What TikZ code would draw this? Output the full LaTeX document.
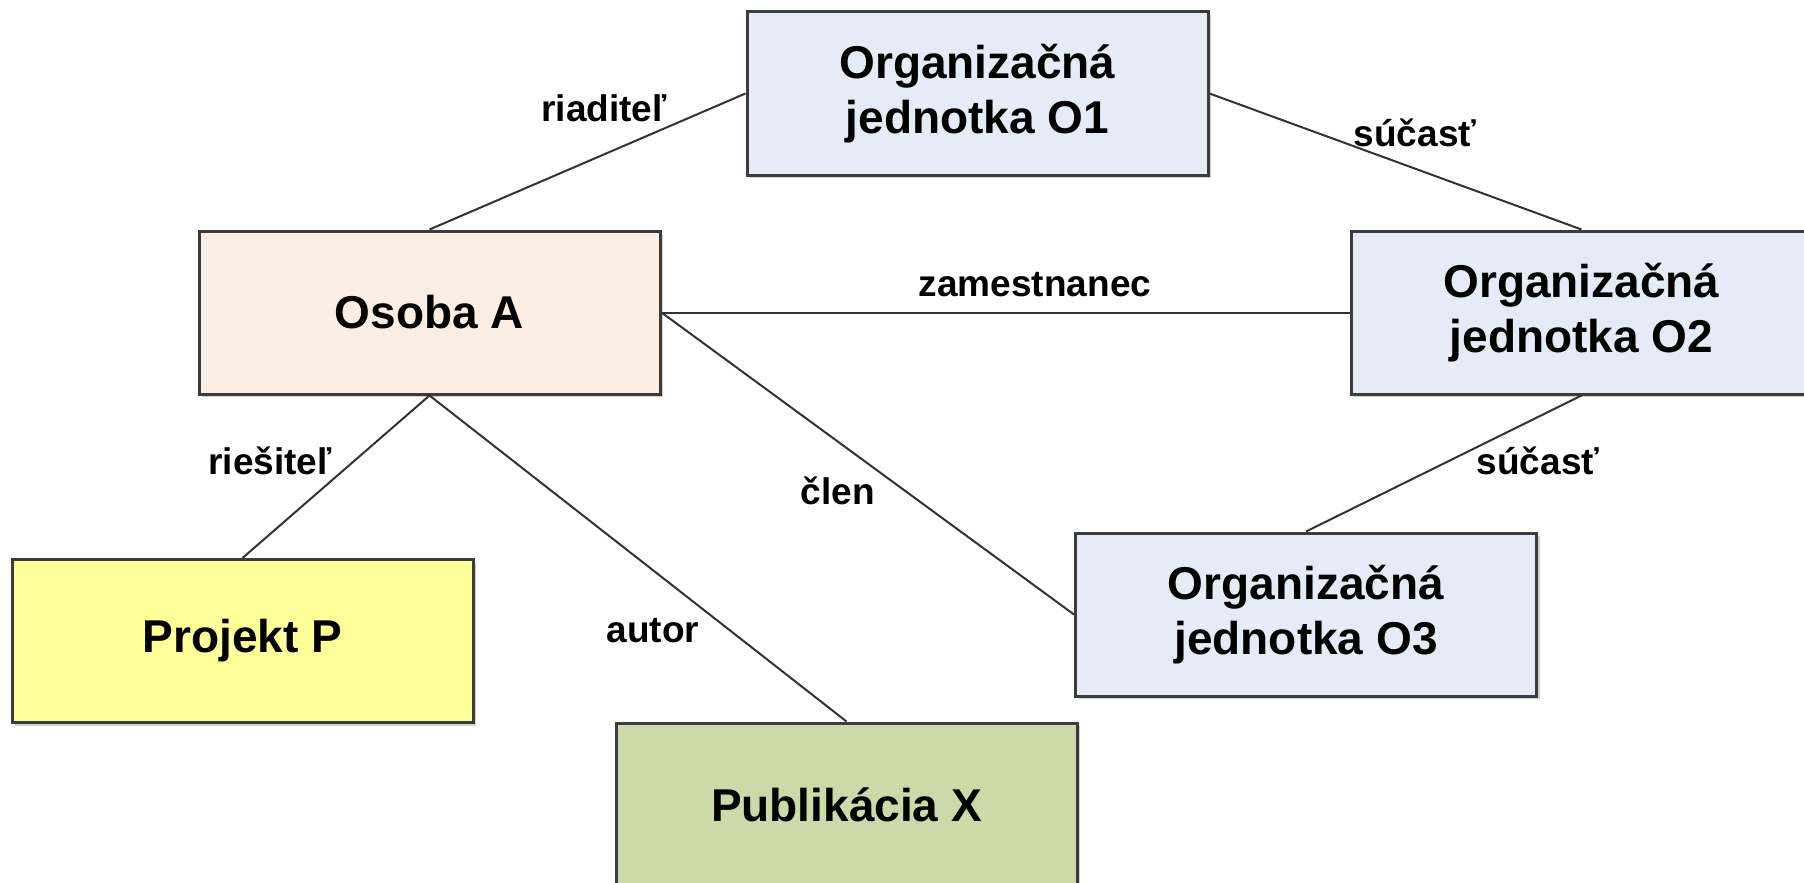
\documentclass[tikz,border=0pt]{standalone}
\usepackage{fontspec}
\setmainfont{Liberation Sans}
\definecolor{orgblue}{HTML}{E5ECF7}
\definecolor{peach}{HTML}{FCEEE2}
\definecolor{yel}{HTML}{FFFF99}
\definecolor{olivegreen}{HTML}{CCDAAA}
\definecolor{boxline}{HTML}{3C3C3C}
\definecolor{lineclr}{HTML}{333333}
\begin{document}
\begin{tikzpicture}[x=1pt,y=-1pt,
  box/.style={draw=boxline, line width=3pt, minimum width=461pt, minimum height=163pt,
    inner sep=0pt, align=center, font=\fontsize{46}{55}\selectfont\bfseries,
    preaction={fill=black!18, transform canvas={shift={(3pt,-3pt)}}}},
  conn/.style={draw=lineclr, line width=2pt},
  lbl/.style={anchor=base, font=\fontsize{37}{44}\selectfont\bfseries, inner sep=0pt}]
\useasboundingbox (0,0) rectangle (1804,883);
\fill[white] (0,0) rectangle (1804,883);

\node[box, fill=orgblue] (O1) at (977.5,93.5) {Organizačná\\jednotka O1};
\node[box, fill=peach] (A) at (429.5,312.5) {Osoba A};
\node[box, fill=orgblue] (O2) at (1581.5,312.5) {Organizačná\\jednotka O2};
\node[box, fill=orgblue] (O3) at (1306,614.5) {Organizačná\\jednotka O3};
\node[box, fill=yel] (P) at (242.5,641) {Projekt P};
\node[box, fill=olivegreen] (X) at (846.5,804.5) {Publikácia X};

\draw[conn] (A.north) -- (O1.west);
\draw[conn] (O1.east) -- (O2.north);
\draw[conn] (A.east) -- (O2.west);
\draw[conn] (A.east) -- (O3.west);
\draw[conn] (O2.south) -- (O3.north);
\draw[conn] (A.south) -- (P.north);
\draw[conn] (A.south) -- (X.north);

\node[lbl] (l1) at (604,121) {riaditeľ};
\node[lbl] (l2) at (1415,146) {súčasť};
\node[lbl] (l3) at (1035,296) {zamestnanec};
\node[lbl] (l4) at (1538,474) {súčasť};
\node[lbl] (l5) at (838,504) {člen};
\node[lbl] (l6) at (270,474) {riešiteľ};
\node[lbl] (l7) at (653,642) {autor};
\end{tikzpicture}
\end{document}
